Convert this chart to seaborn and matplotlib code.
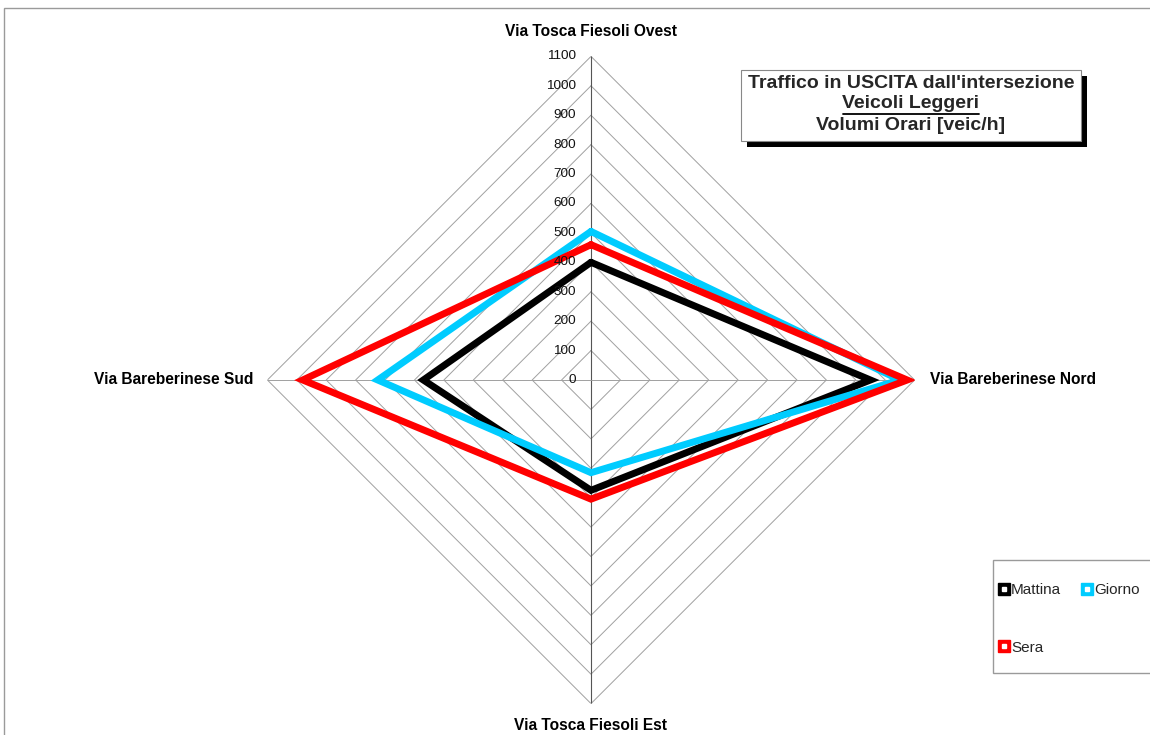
import numpy as np
import pandas as pd
import matplotlib
matplotlib.use("Agg")
import matplotlib.pyplot as plt
from matplotlib.lines import Line2D
from matplotlib.patches import Rectangle
from matplotlib.legend_handler import HandlerTuple
import seaborn as sns

# ---- data ----
categories = ["Via Tosca Fiesoli Ovest", "Via Bareberinese Nord",
              "Via Tosca Fiesoli Est", "Via Bareberinese Sud"]
mattina = [400, 950, 375, 570]
giorno = [505, 1050, 315, 725]
sera = [460, 1075, 405, 980]
series_names = ["Mattina", "Giorno", "Sera"]
series_colors = ["#000000", "#00CCFF", "#FF0000"]
r_ticks = list(range(0, 1101, 100))

sns.set_theme(style="white")
plt.rcParams["font.family"] = ["Liberation Sans", "DejaVu Sans"]

W, H = 1150, 735
fig = plt.figure(figsize=(W / 100, H / 100), dpi=100)

cx, cy, R = 591, 380, 323.6
ax = fig.add_axes([(cx - R) / W, (H - cy - R) / H, 2 * R / W, 2 * R / H],
                  projection="polar")
ax.set_theta_zero_location("N")
ax.set_theta_direction(-1)
ax.set_ylim(0, r_ticks[-1])
ax.grid(False)
ax.spines["polar"].set_visible(False)
ax.patch.set_alpha(0)

n = len(categories)
thetas = np.arange(n) * 2 * np.pi / n
th_closed = np.append(thetas, thetas[0])

# diamond grid
for rv in r_ticks[1:]:
    ax.plot(th_closed, [rv] * (n + 1), color="#a0a0a0", lw=0.7, zorder=1)
# spokes
for i, t in enumerate(thetas):
    ax.plot([t, t], [0, r_ticks[-1]], color="#555555" if i in (0, 2) else "#a0a0a0",
            lw=0.8 if i in (0, 2) else 0.7, zorder=1)

# data lines
rows = []
for name, vals in zip(series_names, [mattina, giorno, sera]):
    vv = list(vals) + [vals[0]]
    for t, v in zip(th_closed, vv):
        rows.append({"serie": name, "theta": t, "r": v})
df = pd.DataFrame(rows)
sns.lineplot(data=df, x="theta", y="r", hue="serie", sort=False, estimator=None,
             units="serie", palette=dict(zip(series_names, series_colors)),
             linewidth=5, ax=ax, legend=False, solid_joinstyle="miter", zorder=3)
ax.set_xlabel("")
ax.set_ylabel("")
ax.set_xticks([])
ax.set_yticks([])
ax.set_ylim(0, r_ticks[-1])

# radial tick labels
for rv in r_ticks:
    ax.annotate(f"{rv}", xy=(0, rv), xytext=(-15, 0), textcoords="offset pixels",
                ha="right", va="center", fontsize=9.7, color="#111111", zorder=4)

# category labels
lab_kw = dict(fontsize=11.2, fontweight="bold", color="#000000")
fig.text(cx / W, 1 - 32 / H, categories[0], ha="center", va="center", **lab_kw)
fig.text(930 / W, 1 - 380 / H, categories[1], ha="left", va="center", **lab_kw)
fig.text(cx / W, 1 - 726 / H, categories[2], ha="center", va="center", **lab_kw)
fig.text(253 / W, 1 - 380 / H, categories[3], ha="right", va="center", **lab_kw)

# outer frame
fig.patches.append(Rectangle((4 / W, -0.1), 1.2, 1 - 8 / H + 0.1,
                             transform=fig.transFigure, fill=False,
                             edgecolor="#9a9a9a", lw=1.0))

# title box with shadow
bx0, by0, bx1, by1 = 741, 70, 1081, 141
fig.patches.append(Rectangle(((bx0 + 6) / W, 1 - (by1 + 6) / H), (bx1 - bx0) / W,
                             (by1 - by0) / H, transform=fig.transFigure,
                             facecolor="black", edgecolor="black", lw=0, zorder=5))
fig.patches.append(Rectangle((bx0 / W, 1 - by1 / H), (bx1 - bx0) / W, (by1 - by0) / H,
                             transform=fig.transFigure, facecolor="white",
                             edgecolor="#888888", lw=0.8, zorder=6))
tk = dict(ha="center", va="center", fontsize=14, fontweight="bold", zorder=7)
tcx = (bx0 + bx1) / 2 / W
fig.text(tcx, 1 - 83 / H, "Traffico in USCITA dall'intersezione", **tk)
fig.text(tcx, 1 - 104 / H, "Veicoli Leggeri", **tk)
fig.text(tcx, 1 - 126 / H, "Volumi Orari [veic/h]", **tk)
fig.lines.append(Line2D([843 / W, 979 / W], [1 - 113.5 / H, 1 - 113.5 / H],
                        transform=fig.transFigure, color="black", lw=1.3, zorder=7))

# legend box
fig.patches.append(Rectangle((993 / W, 1 - 673 / H), 200 / W, 113 / H,
                             transform=fig.transFigure, facecolor="white",
                             edgecolor="#9a9a9a", lw=1.0, zorder=5))
def handle(c):
    return (Line2D([], [], ls="none", marker="s", ms=8.5, mfc=c, mec=c),
            Line2D([], [], ls="none", marker="s", ms=2.3, mfc="white", mec="white"))
order = [0, 2, 1]
leg = fig.legend([handle(series_colors[i]) for i in order],
                 [series_names[i] for i in order],
                 handler_map={tuple: HandlerTuple(ndivide=1, pad=0)},
                 ncol=2, loc="upper left", bbox_to_anchor=(998 / W, 1 - 583 / H),
                 frameon=False, fontsize=11, handlelength=0.75, handletextpad=0.1,
                 labelspacing=2.85, columnspacing=1.35, borderpad=0, borderaxespad=0)
leg.set_zorder(8)

fig.savefig("out.png", dpi=100)
